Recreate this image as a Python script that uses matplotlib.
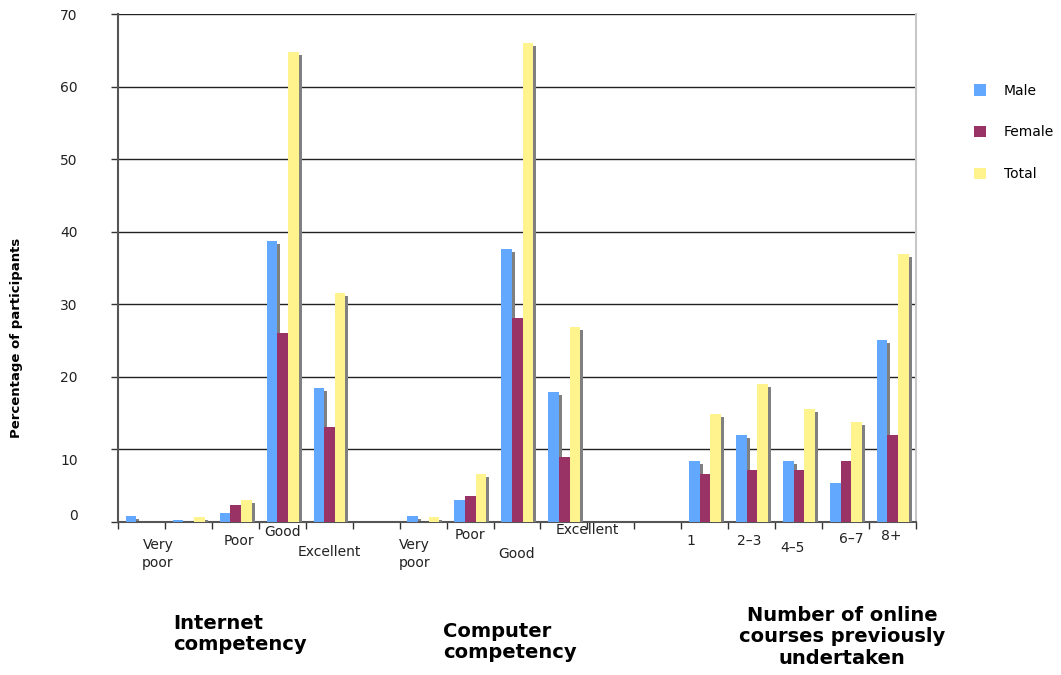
import matplotlib
matplotlib.use('Agg')
import matplotlib.pyplot as plt
from matplotlib.patches import Patch
from matplotlib.transforms import blended_transform_factory, ScaledTranslation
import numpy as np

# 17 category slots; empty slots separate the three sections
male = [0.8, 0.3, 1.2, 38.7, 18.5, 0, 0.8, 3.0, 37.6, 17.9, 0, 0, 8.4, 12.0, 8.4, 5.4, 25.1]
female = [0, 0, 2.3, 26.0, 13.1, 0, 0, 3.6, 28.1, 9.0, 0, 0, 6.6, 7.2, 7.2, 8.4, 12.0]
total = [0, 0.7, 3.0, 64.8, 31.6, 0, 0.7, 6.6, 66.0, 26.9, 0, 0, 14.9, 19.0, 15.6, 13.8, 36.9]

series_names = ["Male", "Female", "Total"]
colors = ["#63a8ff", "#993366", "#fff38d"]

cat_labels = ["Very\npoor", "Poor", "Good", "Excellent",
              "Very\npoor", "Poor", "Good", "Excellent",
              "1", "2\u20133", "4\u20135", "6\u20137", "8+"]
# label placement (x in category units, y in figure pixels from top)
label_x = [0.85, 2.57, 3.51, 4.51, 6.32, 7.49, 8.49, 10.0, 12.21, 13.45, 14.36, 15.62, 16.47]
label_y = [554, 541, 532, 552, 554, 535, 554, 530, 541, 541, 548, 539, 536]

section_titles = ["Internet\ncompetency", "Computer\ncompetency",
                  "Number of online\ncourses previously\nundertaken"]

W, H = 1061, 675
fig = plt.figure(figsize=(W / 100, H / 100), dpi=100)
ax = fig.add_axes([118 / W, 1 - 522 / H, (916 - 118) / W, (522 - 14) / H])

n = len(male)
x = np.arange(n)
bw = 0.227
off0 = 0.165
sdx, sdy = 0.064, 0.41

for i, vals in enumerate([male, female, total]):
    vals = np.array(vals)
    xs = x + off0 + i * bw
    shadow = np.clip(vals - sdy, 0, None)
    shadow[vals == 0] = 0
    ax.bar(xs + sdx, shadow, width=bw, align='edge', color='#808080', zorder=2 + 2 * i)
    ax.bar(xs, vals, width=bw, align='edge', color=colors[i], zorder=3 + 2 * i)

ax.set_xlim(0, n)
ax.set_ylim(0, 70)
ax.set_yticks(range(0, 71, 10))
ax.set_xticks(range(0, n + 1))
ax.set_xticklabels([])
ax.yaxis.grid(True, color='#222222', linewidth=1.0)
ax.set_axisbelow(True)

ax.tick_params(axis='y', direction='out', length=5, width=1, color='#333333',
               pad=24, labelsize=10, labelcolor='#222222')
ax.tick_params(axis='x', direction='out', length=5, width=1, color='#333333')

# the reference draws the "0" label a bit high and the "10" label a bit low
ylabels = ax.get_yticklabels()
shifts = {0: 8, 1: -10}
for idx, dy in shifts.items():
    lab = ylabels[idx]
    lab.set_transform(lab.get_transform() + ScaledTranslation(0, dy / 100, fig.dpi_scale_trans))

for s in ['left', 'bottom']:
    ax.spines[s].set_color('#555555')
    ax.spines[s].set_linewidth(1.5)
ax.spines['top'].set_visible(False)
ax.spines['right'].set_color('#c8c8c8')
ax.spines['right'].set_linewidth(1.5)

tr = blended_transform_factory(ax.transData, fig.transFigure)
for lab, lx, ly in zip(cat_labels, label_x, label_y):
    ax.text(lx, 1 - ly / H, lab, transform=tr, ha='center', va='center',
            fontsize=10, color='#222222', linespacing=1.3)

fig.text(173 / W, 1 - 634 / H, section_titles[0], ha='left', va='center',
         fontsize=14, fontweight='bold', linespacing=1.15)
fig.text(443 / W, 1 - 642 / H, section_titles[1], ha='left', va='center',
         fontsize=14, fontweight='bold', linespacing=1.15)
fig.text(842 / W, 1 - 637 / H, section_titles[2], ha='center', va='center',
         fontsize=14, fontweight='bold', linespacing=1.15)

fig.text(17 / W, 1 - 338 / H, "Percentage of participants", rotation=90,
         ha='center', va='center', fontsize=9.5, fontweight='bold')

handles = [Patch(facecolor=c, edgecolor='none') for c in colors]
fig.legend(handles, series_names, loc='upper left',
           bbox_to_anchor=(968 / W, 1 - 78 / H), frameon=False, fontsize=10,
           handlelength=0.9, handleheight=0.9, labelspacing=2.0,
           handletextpad=1.3, borderaxespad=0)

fig.savefig('out.png', dpi=100)
